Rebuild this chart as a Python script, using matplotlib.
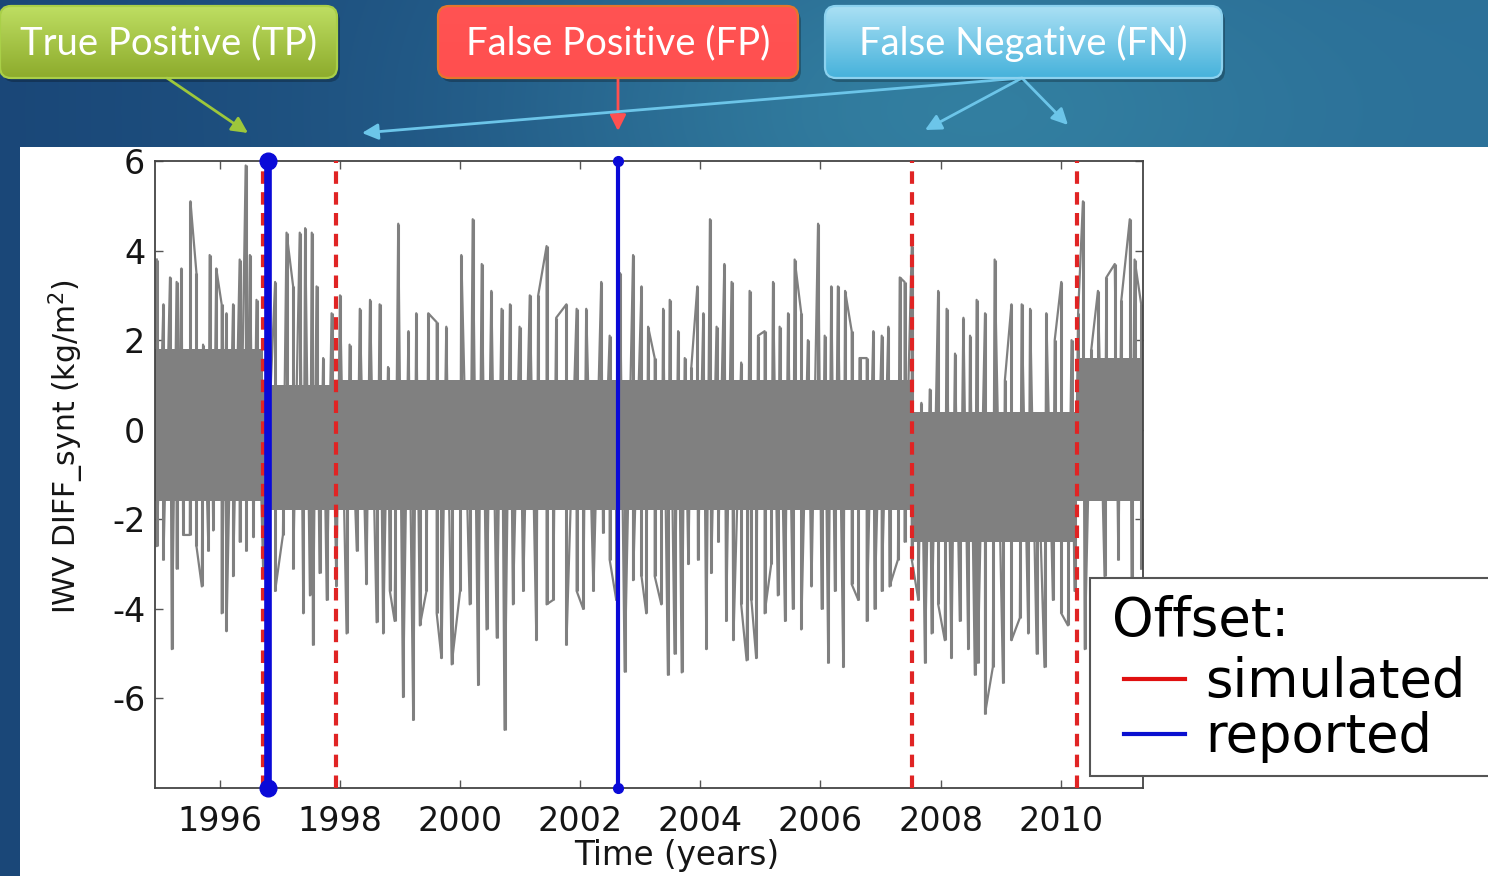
import numpy as np
import matplotlib.pyplot as plt
from matplotlib.patches import FancyBboxPatch, FancyArrowPatch, Rectangle
from matplotlib.lines import Line2D

plt.rcParams['font.family'] = ['DejaVu Sans']
plt.rcParams['axes.unicode_minus'] = False

# --- IWV difference series (kg/m2): local peaks and troughs, decimal years
peak_t = [1994.95, 1995.06, 1995.17, 1995.28, 1995.36, 1995.51, 1995.61, 1995.72, 1995.83, 1995.94,
          1996.03, 1996.11, 1996.22, 1996.33, 1996.43, 1996.50, 1996.61, 1996.92, 1997.11, 1997.22,
          1997.33, 1997.42, 1997.53, 1997.61, 1997.72, 1997.86, 1998.00, 1998.16, 1998.33, 1998.50,
          1998.66, 1998.80, 1998.97, 1999.14, 1999.27, 1999.47, 1999.61, 1999.77, 2000.02, 2000.21,
          2000.36, 2000.52, 2000.69, 2000.83, 2000.99, 2001.16, 2001.30, 2001.44, 2001.60, 2001.77,
          2001.94, 2002.10, 2002.35, 2002.49, 2002.66, 2002.88, 2003.02, 2003.13,
          2003.24, 2003.38, 2003.49, 2003.63, 2003.74, 2003.85, 2003.95, 2004.05, 2004.16, 2004.27,
          2004.40, 2004.52, 2004.68, 2004.82, 2004.96, 2005.07, 2005.21, 2005.32, 2005.46, 2005.57,
          2005.68, 2005.79, 2005.96, 2006.07, 2006.18, 2006.29, 2006.41, 2006.52, 2006.65, 2006.77,
          2006.88, 2007.02, 2007.13, 2007.32, 2007.40, 2007.52, 2007.68, 2007.82, 2007.96, 2008.10,
          2008.24, 2008.38, 2008.49, 2008.60, 2008.74, 2008.90, 2009.07, 2009.18, 2009.35, 2009.49,
          2009.62, 2009.76, 2009.90, 2010.01, 2010.18, 2010.29, 2010.37, 2010.51, 2010.62, 2010.76,
          2010.90, 2011.01, 2011.15, 2011.23, 2011.34]
peak_v = [3.8, 2.8, 3.4, 3.3, 3.6, 5.1, 3.5, 1.9, 3.9, 3.6,
          2.8, 2.6, 2.8, 3.8, 5.9, 3.9, 2.9, 3.3, 4.4, 3.2,
          4.4, 4.5, 4.4, 3.2, 1.6, 2.6, 3.0, 1.9, 2.7, 2.9,
          2.8, 1.4, 4.6, 2.2, 2.6, 2.6, 2.4, 2.3, 3.9, 4.7,
          3.7, 3.1, 2.7, 2.8, 2.3, 3.0, 3.0, 4.1, 2.5, 2.8,
          2.7, 2.7, 3.3, 2.1, 3.5, 3.9, 3.2, 2.3,
          1.6, 2.7, 2.9, 2.2, 1.6, 1.4, 3.2, 2.6, 4.7, 2.3,
          3.7, 3.3, 1.5, 3.1, 2.1, 2.2, 3.3, 2.3, 2.6, 3.8,
          2.6, 2.0, 4.6, 2.1, 3.2, 3.2, 3.1, 2.2, 1.6, 1.6,
          2.2, 2.1, 2.3, 3.4, 3.3, 4.1, 0.6, 0.9, 3.1, 2.7,
          1.7, 2.5, 2.1, 2.9, 2.6, 3.8, 1.1, 2.8, 2.8, 2.7,
          -0.3, 2.6, 2.0, 3.3, 2.0, 2.6, 5.1, 1.8, 3.1, 3.4,
          3.7, 2.9, 4.7, 3.8, 2.8]
trough_t = [1994.95, 1995.06, 1995.20, 1995.28, 1995.39, 1995.50, 1995.61, 1995.70, 1995.81, 1995.89,
            1996.03, 1996.11, 1996.22, 1996.33, 1996.44, 1996.56, 1996.72, 1996.92, 1997.05, 1997.22,
            1997.39, 1997.50, 1997.55, 1997.66, 1997.78, 1997.94, 1998.11, 1998.28, 1998.44, 1998.61,
            1998.72, 1998.83, 1998.91, 1999.05, 1999.22, 1999.33, 1999.44, 1999.61, 1999.69, 1999.86,
            2000.00, 2000.16, 2000.30, 2000.44, 2000.61, 2000.74, 2000.88, 2001.05, 2001.27, 2001.44,
            2001.55, 2001.77, 2001.94, 2002.05, 2002.22, 2002.38, 2002.49, 2002.60, 2002.74, 2002.88,
            2003.02, 2003.10,
            2003.24, 2003.35, 2003.46, 2003.57, 2003.69, 2003.80, 2003.96, 2004.10, 2004.18, 2004.30,
            2004.43, 2004.55, 2004.68, 2004.77, 2004.85, 2004.93, 2005.07, 2005.18, 2005.29, 2005.41,
            2005.54, 2005.68, 2005.85, 2006.02, 2006.13, 2006.24, 2006.38, 2006.52, 2006.63, 2006.77,
            2006.90, 2007.02, 2007.15, 2007.29, 2007.40, 2007.52, 2007.63, 2007.74, 2007.85, 2007.96,
            2008.07, 2008.18, 2008.32, 2008.46, 2008.57, 2008.62, 2008.74, 2008.87, 2009.04, 2009.18,
            2009.32, 2009.46, 2009.60, 2009.73, 2009.87, 2010.01, 2010.12, 2010.23, 2010.40, 2010.73,
            2010.96, 2011.18, 2011.34]
trough_v = [-2.6, -2.9, -4.9, -3.1, -2.35, -2.35, -2.6, -3.5, -2.7, -2.25,
            -4.1, -4.5, -3.27, -2.5, -2.7, -2.4, -3.1, -3.6, -2.35, -3.1,
            -4.1, -3.7, -4.8, -3.2, -3.8, -3.5, -4.55, -2.7, -3.45, -4.3,
            -4.55, -3.6, -4.27, -5.97, -6.48, -4.37, -3.6, -4.1, -5.1, -5.24,
            -3.6, -3.9, -5.7, -4.46, -4.64, -6.7, -3.9, -3.6, -4.7, -3.9,
            -3.8, -4.8, -3.6, -4.0, -3.6, -2.3, -2.9, -3.8, -5.4, -3.36,
            -3.27, -4.1,
            -3.27, -3.9, -5.47, -5.0, -5.42, -3.0, -2.9, -4.9, -3.2, -2.5,
            -4.27, -4.7, -3.9, -5.15, -3.8, -5.1, -4.1, -3.0, -3.7, -4.27,
            -4.0, -4.46, -3.5, -4.0, -5.2, -3.6, -5.3, -3.45, -3.8, -4.27,
            -4.0, -3.6, -3.5, -2.9, -2.5, -2.9, -3.8, -5.2, -4.55, -3.9,
            -4.7, -5.1, -4.27, -4.9, -5.47, -5.2, -6.34, -5.3, -5.65, -4.7,
            -4.2, -4.55, -5.0, -5.3, -3.8, -4.1, -4.37, -3.6, -4.9, -3.27,
            -2.9, -3.36, -3.1]

# dense middle of the signal between offsets (constant per segment)
segment_edges = [1994.92, 1996.72, 1997.93, 2007.52, 2010.27, 2011.37]
core_top = [1.8, 1.0, 1.1, 0.4, 1.6]
core_bot = [-1.6, -1.8, -1.8, -2.5, -1.6]

# offset epochs
simulated = [1996.72, 1997.93, 2007.52, 2010.27]
reported = [1996.80, 2002.63]
reported_lw = [5.5, 3.0]
reported_ms = [12, 7]

xticks = [1996, 1998, 2000, 2002, 2004, 2006, 2008, 2010]
yticks = [-6, -4, -2, 0, 2, 4, 6]

callouts = ['True Positive (TP)', 'False Positive (FP)', 'False Negative (FN)']

W, H = 1488, 876
fig = plt.figure(figsize=(W / 100, H / 100), dpi=100)

# ---------------- slide background (pixel coordinates) ----------------
bg = fig.add_axes([0, 0, 1, 1])
bg.axis('off')
yy, xx = np.mgrid[0:H, 0:W]
navy = np.array([0x1a, 0x47, 0x78]) / 255
side = np.array([0x2a, 0x6d, 0x97]) / 255
teal = np.array([0x3a, 0x8f, 0xab]) / 255
fx = (xx / W)[..., None]
base = navy * (1 - fx) + side * fx
glow = (0.65 * np.exp(-((xx - 950) / 420.0) ** 2 - ((yy - 110) / 220.0) ** 2))[..., None]
img = base * (1 - glow) + teal * glow
bg.imshow(img, extent=(0, W, H, 0), aspect='auto', zorder=0)
bg.add_patch(Rectangle((20, 147), W - 20, H - 147, facecolor='white', edgecolor='none', zorder=1))


def callout(x0, x1, y0, y1, top, bottom, edge, text):
    shadow = FancyBboxPatch((x0 + 3, y0 + 4), x1 - x0, y1 - y0,
                            boxstyle='round,pad=0,rounding_size=11',
                            facecolor='black', edgecolor='none', alpha=0.25, zorder=2)
    bg.add_patch(shadow)
    box = FancyBboxPatch((x0, y0), x1 - x0, y1 - y0,
                         boxstyle='round,pad=0,rounding_size=11',
                         facecolor='none', edgecolor=edge, linewidth=1.6, zorder=4)
    bg.add_patch(box)
    top = np.array(top) / 255
    bottom = np.array(bottom) / 255
    f = np.linspace(0, 1, 64)[:, None, None]
    grad = top * (1 - f) + bottom * f
    grad = np.repeat(grad, 2, axis=1)
    im = bg.imshow(grad, extent=(x0, x1, y1, y0), aspect='auto', zorder=3)
    im.set_clip_path(box)
    bg.text((x0 + x1) / 2, (y0 + y1) / 2 + 1, text, color='white', fontsize=27.5,
            family=['Lato', 'DejaVu Sans'], ha='center', va='center', zorder=5)


callout(0, 337, 6, 78, (0xbe, 0xde, 0x62), (0x8d, 0xab, 0x2c), '#a9cf48', callouts[0])
callout(438, 798, 6, 78, (0xff, 0x53, 0x53), (0xff, 0x4f, 0x4f), '#e5762c', callouts[1])
callout(825, 1222, 6, 78, (0xaa, 0xe0, 0xf4), (0x46, 0xb2, 0xdb), '#8cd2ef', callouts[2])


def arrow(p0, p1, color):
    bg.add_patch(FancyArrowPatch(p0, p1, arrowstyle='-|>', mutation_scale=24,
                                 color=color, linewidth=2, shrinkA=0, shrinkB=0, zorder=3))


arrow((167, 78), (248, 133), '#9dc73b')
arrow((618, 78), (618, 131), '#ff5050')
arrow((1022, 78), (362, 133), '#6cc5e9')
arrow((1022, 78), (925, 130), '#6cc5e9')
arrow((1022, 78), (1068, 125), '#6cc5e9')

bg.set_xlim(0, W)
bg.set_ylim(H, 0)

# ---------------- time series axes ----------------
ax = fig.add_axes([155 / W, (H - 788) / H, 988 / W, 627 / H], zorder=2)
ax.set_facecolor('white')

# dense band, one needle per peak / trough, and the series itself through them
gray = '#808080'
ax.fill_between(segment_edges, core_top + core_top[-1:], core_bot + core_bot[-1:],
                step='post', color=gray, linewidth=0, zorder=1.9)
mid = (np.array(core_top) + np.array(core_bot)) / 2
seg_p = np.clip(np.searchsorted(segment_edges, peak_t) - 1, 0, len(mid) - 1)
seg_t = np.clip(np.searchsorted(segment_edges, trough_t) - 1, 0, len(mid) - 1)
ax.vlines(peak_t, mid[seg_p], peak_v, color=gray, linewidth=2.2, zorder=2)
ax.vlines(trough_t, mid[seg_t], trough_v, color=gray, linewidth=2.2, zorder=2)
t = np.concatenate([peak_t, trough_t])
v = np.concatenate([peak_v, trough_v])
order = np.argsort(t, kind='stable')
ax.plot(t[order], v[order], color=gray, linewidth=1.6, zorder=2)

for x in simulated:
    ax.plot([x, x], [-8, 6], color='#e02424', linewidth=3, dashes=(3.0, 2.0), zorder=3)
for x, lw, ms in zip(reported, reported_lw, reported_ms):
    ax.plot([x, x], [-8, 6], color='#0a0ad8', linewidth=lw, marker='o', markersize=ms,
            solid_capstyle='butt', clip_on=False, zorder=4)

ax.set_xlim(1994.92, 2011.37)
ax.set_ylim(-8, 6)
ax.set_xticks(xticks)
ax.set_yticks(yticks)
ax.tick_params(direction='in', length=6, width=1, top=True, right=True,
               colors='#555555', labelcolor='#151515', labelsize=24)
ax.tick_params(axis='x', pad=12)
ax.tick_params(axis='y', pad=7)
for s in ax.spines.values():
    s.set_color('#444444')
    s.set_linewidth(1.3)

ax.set_xlabel('Time (years)', fontsize=23.5, color='#151515')
ax.xaxis.set_label_coords((677 - 155) / 988, -(839 - 788) / 627)
ax.set_ylabel('IWV DIFF_synt (kg/m$^2$)', fontsize=21.5, color='#151515')
ax.yaxis.set_label_coords((86 - 155) / 988, (788 - 447) / 627)

# ---------------- legend box (pixel coordinates, on top) ----------------
top = fig.add_axes([0, 0, 1, 1], zorder=5)
top.axis('off')
top.set_xlim(0, W)
top.set_ylim(H, 0)
top.add_patch(Rectangle((1090, 578), 420, 198, facecolor='white', edgecolor='#555555',
                        linewidth=1.5, clip_on=False))
top.text(1112, 636, 'Offset:', fontsize=38, color='black', va='baseline', ha='left')
top.add_line(Line2D([1124, 1185], [679, 679], color='#e01010', linewidth=3))
top.text(1205, 697, 'simulated', fontsize=38, color='black', va='baseline', ha='left')
top.add_line(Line2D([1124, 1185], [734, 734], color='#0a10d0', linewidth=3))
top.text(1205, 752, 'reported', fontsize=38, color='black', va='baseline', ha='left')

fig.savefig('out.png', dpi=100)
